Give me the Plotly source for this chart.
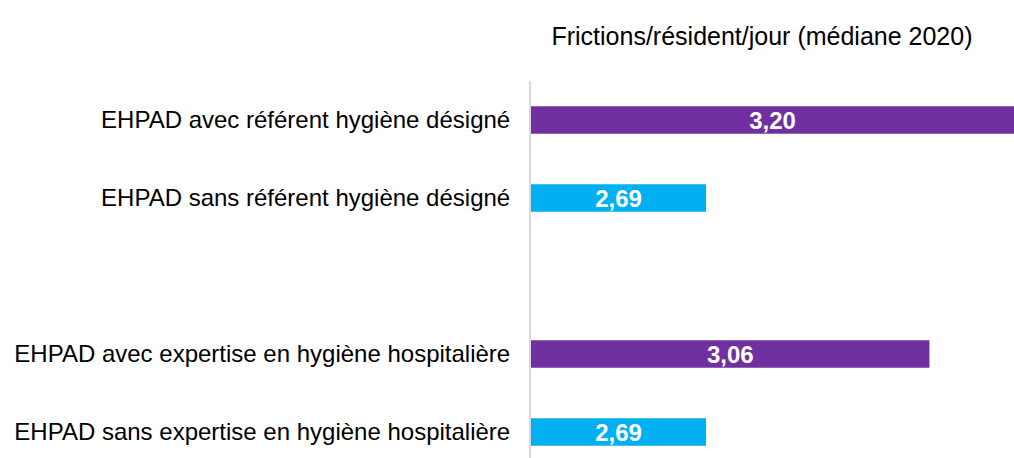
import plotly.graph_objects as go

categories = [
    "EHPAD avec référent hygiène désigné",
    "EHPAD sans référent hygiène désigné",
    "EHPAD avec expertise en hygiène hospitalière",
    "EHPAD sans expertise en hygiène hospitalière",
]
values = [3.20, 2.69, 3.06, 2.69]
colors = ["#7030A0", "#00B0F0", "#7030A0", "#00B0F0"]
category_order = [categories[0], categories[1], " ", categories[2], categories[3]]
title_text = "Frictions/résident/jour (médiane 2020)"
axis_min, axis_max = 2.4, 3.2

labels = ["<b>" + f"{v:.2f}".replace(".", ",") + "</b>" for v in values]
lengths = [v - axis_min for v in values]

FONT = "Arial, Liberation Sans, sans-serif"

W, H = 1014, 458
SLOT = 78.0  # pixels per category slot
TOP = 81
plot_h = H - TOP

fig = go.Figure(
    go.Bar(
        x=lengths,
        base=axis_min,
        y=categories,
        orientation="h",
        marker=dict(color=colors, line=dict(width=0)),
        text=labels,
        textposition="inside",
        insidetextanchor="middle",
        textangle=0,
        textfont=dict(color="white", size=24, family=FONT),
        hoverinfo="skip",
    )
)

fig.update_layout(
    width=W,
    height=H,
    margin=dict(l=531, r=0, t=TOP, b=0, pad=0, autoexpand=False),
    paper_bgcolor="white",
    plot_bgcolor="white",
    bargap=0.65,
    showlegend=False,
    uniformtext=dict(mode="show", minsize=24),
    font=dict(family=FONT, size=24, color="black"),
    title=dict(
        text=title_text,
        x=762 / W,
        xanchor="center",
        y=1 - 36 / H,
        yanchor="middle",
        automargin=False,
        font=dict(size=25, color="black", family=FONT),
    ),
)

fig.update_xaxes(
    range=[axis_min, axis_max],
    showgrid=False,
    zeroline=False,
    showticklabels=False,
    showline=False,
    automargin=False,
    fixedrange=True,
)
fig.update_yaxes(
    type="category",
    categoryorder="array",
    categoryarray=category_order,
    range=[-0.5 + plot_h / SLOT, -0.5],
    showgrid=False,
    zeroline=False,
    showline=True,
    linecolor="#d9d9d9",
    linewidth=2,
    ticks="",
    ticklabelstandoff=14,
    automargin=False,
    tickfont=dict(size=24, color="black", family=FONT),
    fixedrange=True,
)

fig.write_html(
    "out.html",
    config={"displayModeBar": False, "staticPlot": True},
    post_script="document.body.style.margin='0';document.body.style.overflow='hidden';",
)
